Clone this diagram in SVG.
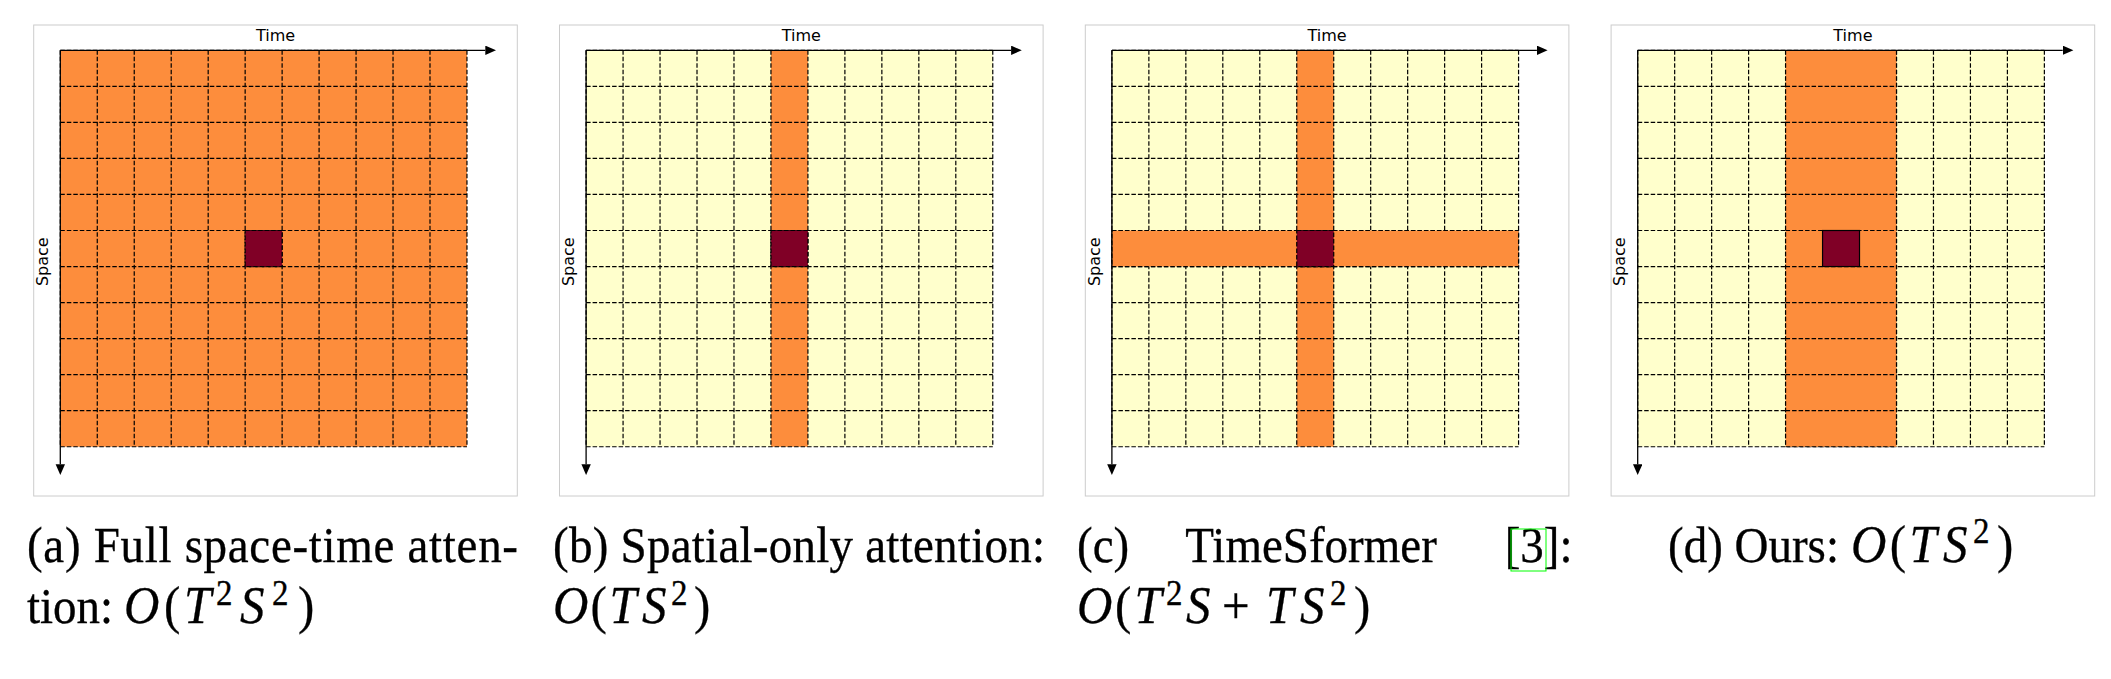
<svg xmlns="http://www.w3.org/2000/svg" xmlns:xlink="http://www.w3.org/1999/xlink" width="2111" height="679" viewBox="0 0 2111 679">
<style>
.frame{fill:#fff;stroke:#cccccc;stroke-width:1}
.y{fill:#ffffcc}
.o{fill:#fd8d3c}
.r{fill:#800026}
.g{fill:none;stroke:#000;stroke-width:1.2;stroke-dasharray:4.5 2}
.gs{stroke:#000;stroke-width:1.2;stroke-dasharray:4.5 2}
.rs{stroke:#000;stroke-width:1.2}
.ax{stroke:#000;stroke-width:1.3;fill:none}
.lbl{font-family:"DejaVu Sans",sans-serif;font-size:16px;fill:#000}
.cap{font-family:"Liberation Serif","Times New Roman",serif;font-size:47px;fill:#000;stroke:#000;stroke-width:0.3}
.m{font-family:"Liberation Serif","Times New Roman",serif;font-size:49px;fill:#000;stroke:#000;stroke-width:0.3}
.mi{font-style:italic}
.sup{font-size:33px}
</style>
<defs>
<marker id="ah" markerUnits="userSpaceOnUse" markerWidth="12" markerHeight="10" refX="0" refY="4.7" orient="auto"><path d="M0 0L10.7 4.7L0 9.4Z" fill="#000"/></marker>
<path id="grid" class="g" d="M60.3 50.3V446.74M97.27 50.3V446.74M134.24 50.3V446.74M171.21 50.3V446.74M208.18 50.3V446.74M245.15 50.3V446.74M282.12 50.3V446.74M319.09 50.3V446.74M356.06 50.3V446.74M393.03 50.3V446.74M430 50.3V446.74M466.97 50.3V446.74M60.3 50.3H466.97M60.3 86.34H466.97M60.3 122.38H466.97M60.3 158.42H466.97M60.3 194.46H466.97M60.3 230.5H466.97M60.3 266.54H466.97M60.3 302.58H466.97M60.3 338.62H466.97M60.3 374.66H466.97M60.3 410.7H466.97M60.3 446.74H466.97"/>
<g id="axes">
<line class="ax" x1="60.3" y1="50.3" x2="485.3" y2="50.3" marker-end="url(#ah)"/>
<line class="ax" x1="60.3" y1="50.3" x2="60.3" y2="464.3" marker-end="url(#ah)"/>
<text class="lbl" x="275.5" y="40.7" text-anchor="middle">Time</text>
<text class="lbl" transform="translate(48 261.7) rotate(-90)" text-anchor="middle">Space</text>
</g>
</defs>

<g id="panel-a">
<rect class="frame" x="33.7" y="25" width="483.6" height="471"/>
<rect class="o" x="60.3" y="50.3" width="406.67" height="396.44"/>
<use xlink:href="#grid"/>
<rect class="r gs" x="245.15" y="230.5" width="36.97" height="36.04"/>
</g>

<g id="panel-b" transform="translate(525.8 0)">
<rect class="frame" x="33.7" y="25" width="483.6" height="471"/>
<rect class="y" x="60.3" y="50.3" width="406.67" height="396.44"/>
<rect class="o" x="245.15" y="50.3" width="36.97" height="396.44"/>
<use xlink:href="#grid"/>
<rect class="r gs" x="245.15" y="230.5" width="36.97" height="36.04"/>
</g>

<g id="panel-c" transform="translate(1051.6 0)">
<rect class="frame" x="33.7" y="25" width="483.6" height="471"/>
<rect class="y" x="60.3" y="50.3" width="406.67" height="396.44"/>
<rect class="o" x="245.15" y="50.3" width="36.97" height="396.44"/>
<use xlink:href="#grid"/>
<rect class="o gs" x="60.3" y="230.5" width="406.67" height="36.04"/>
<rect class="r gs" x="245.15" y="230.5" width="36.97" height="36.04"/>
</g>

<g id="panel-d" transform="translate(1577.4 0)">
<rect class="frame" x="33.7" y="25" width="483.6" height="471"/>
<rect class="y" x="60.3" y="50.3" width="406.67" height="396.44"/>
<use xlink:href="#grid"/>
<rect class="o" x="208.18" y="50.3" width="110.91" height="396.44"/>
<path class="g" d="M208.18 50.3V446.74M319.09 50.3V446.74M208.18 86.34H319.09M208.18 122.38H319.09M208.18 158.42H319.09M208.18 194.46H319.09M208.18 230.5H319.09M208.18 266.54H319.09M208.18 302.58H319.09M208.18 338.62H319.09M208.18 374.66H319.09M208.18 410.7H319.09M208.18 446.74H319.09"/>
<rect class="r rs" x="245.15" y="230.5" width="36.97" height="36.04"/>
</g>

<g id="connectors">
<use xlink:href="#axes"/>
<use xlink:href="#axes" transform="translate(525.8 0)"/>
<use xlink:href="#axes" transform="translate(1051.6 0)"/>
<use xlink:href="#axes" transform="translate(1577.4 0)"/>
</g>

<g id="caption-a">
<g transform="matrix(1 0 0 1.08 0 -44.96)">
<text class="cap" x="27" y="562" textLength="491" lengthAdjust="spacing">(a) Full space-time atten-</text>
</g>
<g transform="matrix(1 0 0 1.08 0 -49.84)">
<text class="cap" x="27" y="623">tion:</text>
<text class="m" y="623"><tspan class="mi" x="124">O</tspan><tspan x="164">(</tspan><tspan class="mi" x="184">T</tspan><tspan class="sup" x="216" y="606">2</tspan><tspan class="mi" x="240" y="623">S</tspan><tspan class="sup" x="272" y="606">2</tspan><tspan x="298" y="623">)</tspan></text>
</g>
</g>

<g id="caption-b">
<g transform="matrix(1 0 0 1.08 0 -44.96)">
<text class="cap" x="553" y="562" textLength="492" lengthAdjust="spacing">(b) Spatial-only attention:</text>
</g>
<g transform="matrix(1 0 0 1.08 0 -49.84)">
<text class="m" y="623"><tspan class="mi" x="553">O</tspan><tspan x="590.4">(</tspan><tspan class="mi" x="609.5">T</tspan><tspan class="mi" x="642">S</tspan><tspan class="sup" x="671" y="606">2</tspan><tspan x="694" y="623">)</tspan></text>
</g>
</g>

<g id="caption-c">
<g transform="matrix(1 0 0 1.08 0 -44.96)">
<text class="cap" y="562"><tspan x="1077">(c)</tspan><tspan x="1185.3">TimeSformer</tspan><tspan x="1504.7">[3]:</tspan></text>
</g>
<rect x="1511" y="529" width="35" height="42" fill="none" stroke="#00ff00" stroke-width="1"/>
<g transform="matrix(1 0 0 1.08 0 -49.84)">
<text class="m" y="623"><tspan class="mi" x="1077">O</tspan><tspan x="1115">(</tspan><tspan class="mi" x="1134.4">T</tspan><tspan class="sup" x="1166" y="606">2</tspan><tspan class="mi" x="1186" y="623">S</tspan><tspan x="1222">+</tspan><tspan class="mi" x="1266">T</tspan><tspan class="mi" x="1300">S</tspan><tspan class="sup" x="1330" y="606">2</tspan><tspan x="1354" y="623">)</tspan></text>
</g>
</g>

<g id="caption-d">
<g transform="matrix(1 0 0 1.08 0 -44.96)">
<text class="cap" x="1668" y="562">(d) Ours:</text>
<text class="m" y="562"><tspan class="mi" x="1851">O</tspan><tspan x="1889.8">(</tspan><tspan class="mi" x="1909.6">T</tspan><tspan class="mi" x="1943">S</tspan><tspan class="sup" x="1973" y="544">2</tspan><tspan x="1997" y="562">)</tspan></text>
</g>
</g>
</svg>
